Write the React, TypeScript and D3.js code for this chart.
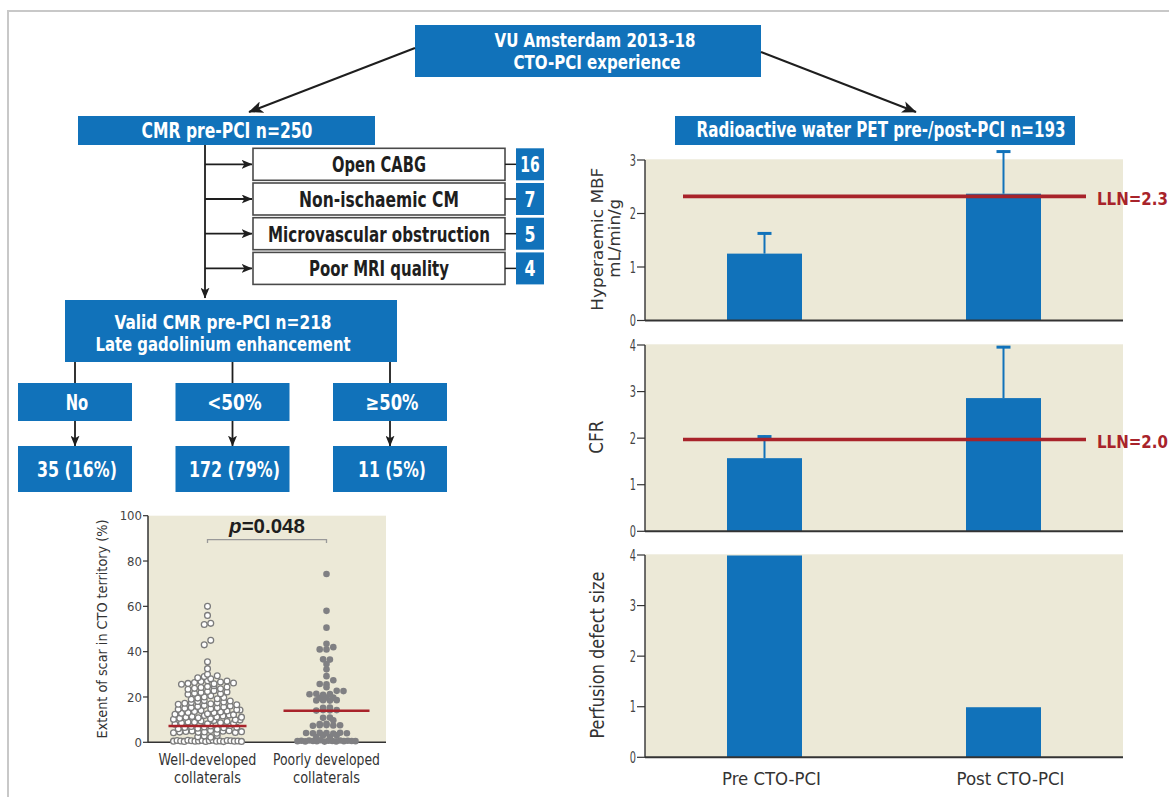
import React, { useLayoutEffect, useRef, useState } from 'react'
import * as d3 from 'd3'

const BLUE = '#1172BA'
const BEIGE = '#ECE9D7'
const RED = '#A8232A'
const INK = '#1e1e1e'
const COND = "'DejaVu Sans Condensed','Liberation Sans Narrow','Roboto Condensed',Roboto,sans-serif"
const SANS = "'Liberation Sans',Arial,sans-serif"

// ---- flow chart data
const exclusionLabels = ['Open CABG', 'Non-ischaemic CM', 'Microvascular obstruction', 'Poor MRI quality']
const exclusionCounts = [16, 7, 5, 4]
const scarCategories = ['No', '<50%', '≥50%']
const scarResults = ['35 (16%)', '172 (79%)', '11 (5%)']

// ---- scar extent by collateral grade (%)
const collateralGroups = ['Well-developed', 'Poorly developed']
const wellScar = [
  0.5, 0.8, 0.6, 0.4, 0.9, 0.7, 0.5, 0.6, 0.8, 0.4, 0.7, 0.9, 0.5, 0.6, 0.3, 0.8, 0.7, 0.5, 0.6, 0.4,
  2.4, 2.8, 2.2, 3.0,
  4.2, 4.5, 4.8, 5.0, 4.4, 4.6, 5.2, 4.0, 4.9, 5.1, 4.3, 4.7,
  6.0, 6.5, 7.0, 6.2, 6.8, 7.2, 5.8, 6.4, 7.4, 6.6,
  8.0, 8.5, 9.0, 8.8, 9.4, 8.2, 9.6, 8.6, 9.2, 8.4, 9.8,
  10.2, 10.6, 11.0, 11.4, 10.8, 11.8, 10.4, 11.2, 11.6, 12.0, 10.0, 11.1,
  12.4, 12.8, 13.2, 13.6, 14.0, 12.6, 13.0, 13.4, 13.8, 12.2, 14.2,
  14.6, 15.0, 15.4, 15.8, 16.2, 14.8, 15.2, 15.6, 16.0, 14.4,
  16.8, 17.2, 17.6, 18.0, 18.4, 17.0, 17.4, 17.8, 18.2, 16.6,
  19.0, 19.5, 20.0, 20.5, 19.2, 19.8,
  21.2, 21.6, 22.0, 22.4, 22.8, 21.4, 22.2,
  23.4, 23.8, 24.2, 24.6, 25.0, 23.6, 24.4,
  25.6, 26.0, 26.4, 26.8, 27.2, 25.8, 26.6, 27.0, 26.2,
  28.5, 29.0, 28.0, 29.4,
  30.0, 32.5, 35.5, 43.0, 45.0, 52.0, 52.5, 56.0, 60.0,
]
const poorScar = [
  0.5, 0.7, 0.4, 0.8, 0.6, 0.5, 0.9, 0.3, 0.7, 0.6, 0.4, 0.8, 0.5, 0.7, 0.6, 0.5,
  2.3, 3.1, 2.3, 3.1,
  4.1, 4.0, 4.2, 4.1, 3.9, 4.2, 4.0,
  7.3, 7.5, 7.6, 7.4, 7.5,
  8.1, 8.2, 9.7,
  10.8, 10.9,
  14.0, 14.2, 14.1, 14.2,
  15.2, 15.3,
  18.5, 18.6, 18.4, 18.6,
  19.6, 19.8, 19.7,
  21.2, 21.4, 21.0, 21.3, 22.7, 22.6,
  24.3, 25.7, 25.6, 27.4, 29.2,
  32.2, 34.5, 36.6, 36.5, 41.0, 41.0, 42.0, 43.5, 50.6, 58.0, 74.3,
]
const scarMedians = [7.2, 13.9]
const scarTicks = [0, 20, 40, 60, 80, 100]

// ---- PET pre / post
const petGroups = ['Pre CTO-PCI', 'Post CTO-PCI']
const mbfMean = [1.25, 2.37]
const mbfUpper = [1.65, 3.18]
const cfrMean = [1.57, 2.86]
const cfrUpper = [2.06, 3.98]
const defectMean = [3.99, 0.99]
const mbfLLN = 2.32
const cfrLLN = 1.97

// text squeezed horizontally to a given width (the original uses a condensed face)
function FitText(props: any) {
  const { x, y, len, rotate = 0, size = 21, bold = true, color = '#fff', family = COND, anchor = 'middle', children } = props
  const ref = useRef<SVGTextElement>(null)
  const [sx, setSx] = useState(1)
  useLayoutEffect(() => {
    if (!len || !ref.current) return
    const w = ref.current.getComputedTextLength()
    if (w > 0) setSx(len / w)
  }, [len, size, children])
  const rot = rotate ? ` rotate(${rotate})` : ''
  return (
    <text ref={ref} transform={`translate(${x},${y})${rot} scale(${sx},1)`} textAnchor={anchor}
      fontFamily={family} fontWeight={bold ? 700 : 400} fontSize={size} fill={color}>{children}</text>
  )
}

function Box(props: any) {
  const { x, y, w, h, fill = BLUE, stroke = 'none' } = props
  return <rect x={x} y={y} width={w} height={h} fill={fill} stroke={stroke} strokeWidth={stroke === 'none' ? 0 : 1.6} />
}

function FlowChart() {
  const rowTop = d3.scaleLinear().domain([0, 1]).range([148.3, 183])
  const colX = d3.scalePoint().domain(scarCategories).range([75, 390])
  const catW = 114
  return (
    <g>
      <Box x={415} y={25} w={346} h={52} />
      <FitText x={595} y={46.5} len={201} size={18.8}>VU Amsterdam 2013-18</FitText>
      <FitText x={597} y={68.5} len={167} size={18.8}>CTO-PCI experience</FitText>
      <line x1={415} y1={48} x2={249} y2={112} stroke={INK} strokeWidth={2} markerEnd="url(#arrowBig)" />
      <line x1={761} y1={52} x2={916} y2={112} stroke={INK} strokeWidth={2} markerEnd="url(#arrowBig)" />

      <Box x={78} y={116} w={297} h={29} />
      <FitText x={227} y={137.5} len={171} size={20.5}>CMR pre-PCI n=250</FitText>
      <Box x={675} y={116} w={400} h={29} />
      <FitText x={881} y={137} len={369} size={20.5}>Radioactive water PET pre-/post-PCI n=193</FitText>

      <line x1={205} y1={145} x2={205} y2={298} stroke={INK} strokeWidth={1.8} markerEnd="url(#arrowSmall)" />
      {exclusionLabels.map((lab, i) => {
        const top = rowTop(i)
        const mid = top + 16
        return (
          <g key={lab}>
            <line x1={205} y1={mid} x2={252} y2={mid} stroke={INK} strokeWidth={1.8} markerEnd="url(#arrowSmall)" />
            <Box x={253} y={top} w={252} h={32} fill="#fff" stroke="#4a4a4a" />
            <FitText x={379} y={mid + 8} color={INK} size={22}
              len={[94, 160, 222, 140][i]}>{lab}</FitText>
            <line x1={505} y1={mid} x2={516} y2={mid} stroke={INK} strokeWidth={1.5} />
            <Box x={516} y={top} w={28} h={32} />
            <FitText x={530} y={mid + 8} size={22} len={exclusionCounts[i] > 9 ? 19.5 : 11}>{exclusionCounts[i]}</FitText>
          </g>
        )
      })}

      <Box x={65} y={300} w={332} h={62} />
      <FitText x={223} y={328.5} len={217} size={18.8}>Valid CMR pre-PCI n=218</FitText>
      <FitText x={223} y={350.5} len={255} size={18.8}>Late gadolinium enhancement</FitText>

      {scarCategories.map((c, i) => {
        const cx = colX(c) as number
        return (
          <g key={c}>
            <line x1={cx} y1={362} x2={cx} y2={383} stroke={INK} strokeWidth={1.8} />
            <Box x={cx - catW / 2} y={383} w={catW} h={38} />
            <FitText x={cx + 2} y={409.5} len={[22.5, 54.6, 52.8][i]}>{c}</FitText>
            <line x1={cx} y1={421} x2={cx} y2={446} stroke={INK} strokeWidth={1.8} markerEnd="url(#arrowSmall)" />
            <Box x={cx - catW / 2} y={446} w={catW} h={46} />
            <FitText x={cx + 2} y={476.5} len={[80, 91, 68][i]}>{scarResults[i]}</FitText>
          </g>
        )
      })}
    </g>
  )
}

function swarm(values: number[], cx: number, y: any, step: number, gap: number, maxW: number) {
  const bins = d3.group(values, (v: number) => Math.round(v / step))
  const pts: { x: number; y: number }[] = []
  for (const [, vs] of bins) {
    const n = vs.length
    const s = n > 1 ? Math.min(gap, maxW / (n - 1)) : 0
    vs.forEach((v: number, i: number) => pts.push({ x: cx + (i - (n - 1) / 2) * s, y: y(v) }))
  }
  return pts
}

function ScarPlot() {
  const left = 148, right = 386, top = 515.7, bottom = 742.3
  const y = d3.scaleLinear().domain([0, 100]).range([bottom, top])
  const x = d3.scalePoint().domain(collateralGroups).range([left, right]).padding(0.5)
  const xw = x(collateralGroups[0]) as number
  const xp = x(collateralGroups[1]) as number
  const well = swarm(wellScar, xw, y, 2.2, 6.5, 68)
  const poor = swarm(poorScar, xp, y, 2.2, 6.8, 58)
  const halfLine = [39, 43]
  return (
    <g>
      <rect x={left} y={top} width={right - left} height={bottom - top} fill={BEIGE} />
      {scarTicks.map(t => (
        <g key={t}>
          <line x1={left - 5} x2={left} y1={y(t)} y2={y(t)} stroke="#333" strokeWidth={1.2} />
          <text x={left - 6} y={y(t)} dy="0.36em" textAnchor="end" fontFamily={COND} fontSize={13} fill="#444">{t}</text>
        </g>
      ))}
      <line x1={left} x2={left} y1={top} y2={bottom} stroke="#333" strokeWidth={1.5} />
      <line x1={left} x2={right} y1={bottom} y2={bottom} stroke="#333" strokeWidth={1.5} />
      <FitText x={106.5} y={(top + bottom) / 2} rotate={-90} size={14.5} bold={false} color="#333"
        len={219}>Extent of scar in CTO territory (%)</FitText>

      {well.map((p, i) => <circle key={'w' + i} cx={p.x} cy={p.y} r={2.9} fill="#fff" stroke="#7b7b7b" strokeWidth={1.3} />)}
      {poor.map((p, i) => <circle key={'p' + i} cx={p.x} cy={p.y} r={3.3} fill="#808083" />)}
      {scarMedians.map((m, i) => {
        const cx = x(collateralGroups[i]) as number
        return <line key={i} x1={cx - halfLine[i]} x2={cx + halfLine[i]} y1={y(m)} y2={y(m)} stroke={RED} strokeWidth={2.4} />
      })}

      <path d={`M${xw},${y(88)}V${y(89.4)}H${xp}V${y(88)}`} fill="none" stroke="#999" strokeWidth={1.3} />
      <text x={267} y={533} textAnchor="middle" fontFamily={SANS} fontWeight={700} fontSize={20.5} fill={INK}>
        <tspan fontStyle="italic">p</tspan>=0.048
      </text>

      {collateralGroups.map((g, i) => {
        const cx = x(g) as number
        return (
          <g key={g}>
            <FitText x={cx} y={765} size={15} bold={false} color="#333" len={[98, 107][i]}>{g}</FitText>
            <FitText x={cx} y={783} size={15} bold={false} color="#333" len={67}>collaterals</FitText>
          </g>
        )
      })}
    </g>
  )
}

function PetPanel(props: any) {
  const { top, bottom, max, means, upper, lln, llnLabel, titles, titleLens, titleX, titleSize, xLabels } = props
  const left = 645, right = 1123
  const x = d3.scalePoint().domain(petGroups).range([left, right]).padding(0.5)
  const y = d3.scaleLinear().domain([0, max]).range([bottom, top])
  const bw = 75
  return (
    <g>
      <rect x={left} y={top - 0.7} width={right - left} height={bottom - top + 0.7} fill={BEIGE} />
      {y.ticks(max).map((t: number) => (
        <g key={t}>
          <line x1={left - 8} x2={left} y1={y(t)} y2={y(t)} stroke="#333" strokeWidth={1.2} />
          <text transform={`translate(${left - 9},${y(t)}) scale(0.68,1)`} dy="0.36em" textAnchor="end"
            fontFamily={COND} fontSize={16} fill="#444">{t}</text>
        </g>
      ))}
      {petGroups.map((g, i) => {
        const cx = x(g) as number
        return (
          <g key={g}>
            {upper && <line x1={cx} x2={cx} y1={y(means[i])} y2={y(upper[i])} stroke={BLUE} strokeWidth={2} />}
            {upper && <line x1={cx - 7} x2={cx + 7} y1={y(upper[i]) + 1.2} y2={y(upper[i]) + 1.2} stroke={BLUE} strokeWidth={3} />}
            <rect x={cx - bw / 2} y={y(means[i])} width={bw} height={bottom - y(means[i])} fill={BLUE} />
          </g>
        )
      })}
      {lln !== undefined && (
        <g>
          <line x1={683} x2={1086} y1={y(lln)} y2={y(lln)} stroke={RED} strokeWidth={3.6} />
          <FitText x={1097} y={y(lln) + 8.5} anchor="start" size={17.5} color={RED} len={71}>{llnLabel}</FitText>
        </g>
      )}
      <line x1={left} x2={left} y1={top} y2={bottom} stroke="#333" strokeWidth={1.4} />
      <line x1={left} x2={right} y1={bottom} y2={bottom} stroke="#333" strokeWidth={2} />
      {titles.map((t: string, i: number) => (
        <FitText key={t} x={titleX[i]} y={(top + bottom) / 2 + (i === 0 ? -1 : -2)} rotate={-90} size={titleSize}
          bold={false} color="#333" len={titleLens[i]}>{t}</FitText>
      ))}
      {xLabels && petGroups.map((g, i) => (
        <FitText key={g} x={(x(g) as number) + 7} y={785} size={17.5} bold={false} color="#333"
          len={[99, 108][i]}>{g}</FitText>
      ))}
    </g>
  )
}

export default function App() {
  return (
    <svg width={1169} height={797} style={{ position: 'absolute', left: 0, top: 0, background: '#fff' }}>
      <defs>
        <marker id="arrowBig" markerUnits="userSpaceOnUse" viewBox="0 0 12 10" refX={11.5} refY={5}
          markerWidth={15} markerHeight={12} orient="auto">
          <path d="M0,0 L12,5 L0,10 L3,5 Z" fill={INK} />
        </marker>
        <marker id="arrowSmall" markerUnits="userSpaceOnUse" viewBox="0 0 12 10" refX={11.5} refY={5}
          markerWidth={11} markerHeight={9} orient="auto">
          <path d="M0,0 L12,5 L0,10 L3,5 Z" fill={INK} />
        </marker>
      </defs>
      <rect x={8} y={11} width={1200} height={800} fill="none" stroke="#c8c8c8" strokeWidth={2} />
      <FlowChart />
      <ScarPlot />
      <PetPanel top={160} bottom={320.5} max={3} means={mbfMean} upper={mbfUpper} lln={mbfLLN} llnLabel="LLN=2.3"
        titles={['Hyperaemic MBF', 'mL/min/g']} titleLens={[143, 79]} titleX={[603, 620]} titleSize={16.5} />
      <PetPanel top={345} bottom={531.3} max={4} means={cfrMean} upper={cfrUpper} lln={cfrLLN} llnLabel="LLN=2.0"
        titles={['CFR']} titleLens={[33]} titleX={[603]} titleSize={20} />
      <PetPanel top={555} bottom={757.3} max={4} means={defectMean}
        titles={['Perfusion defect size']} titleLens={[167]} titleX={[603.5]} titleSize={20} xLabels />
    </svg>
  )
}
